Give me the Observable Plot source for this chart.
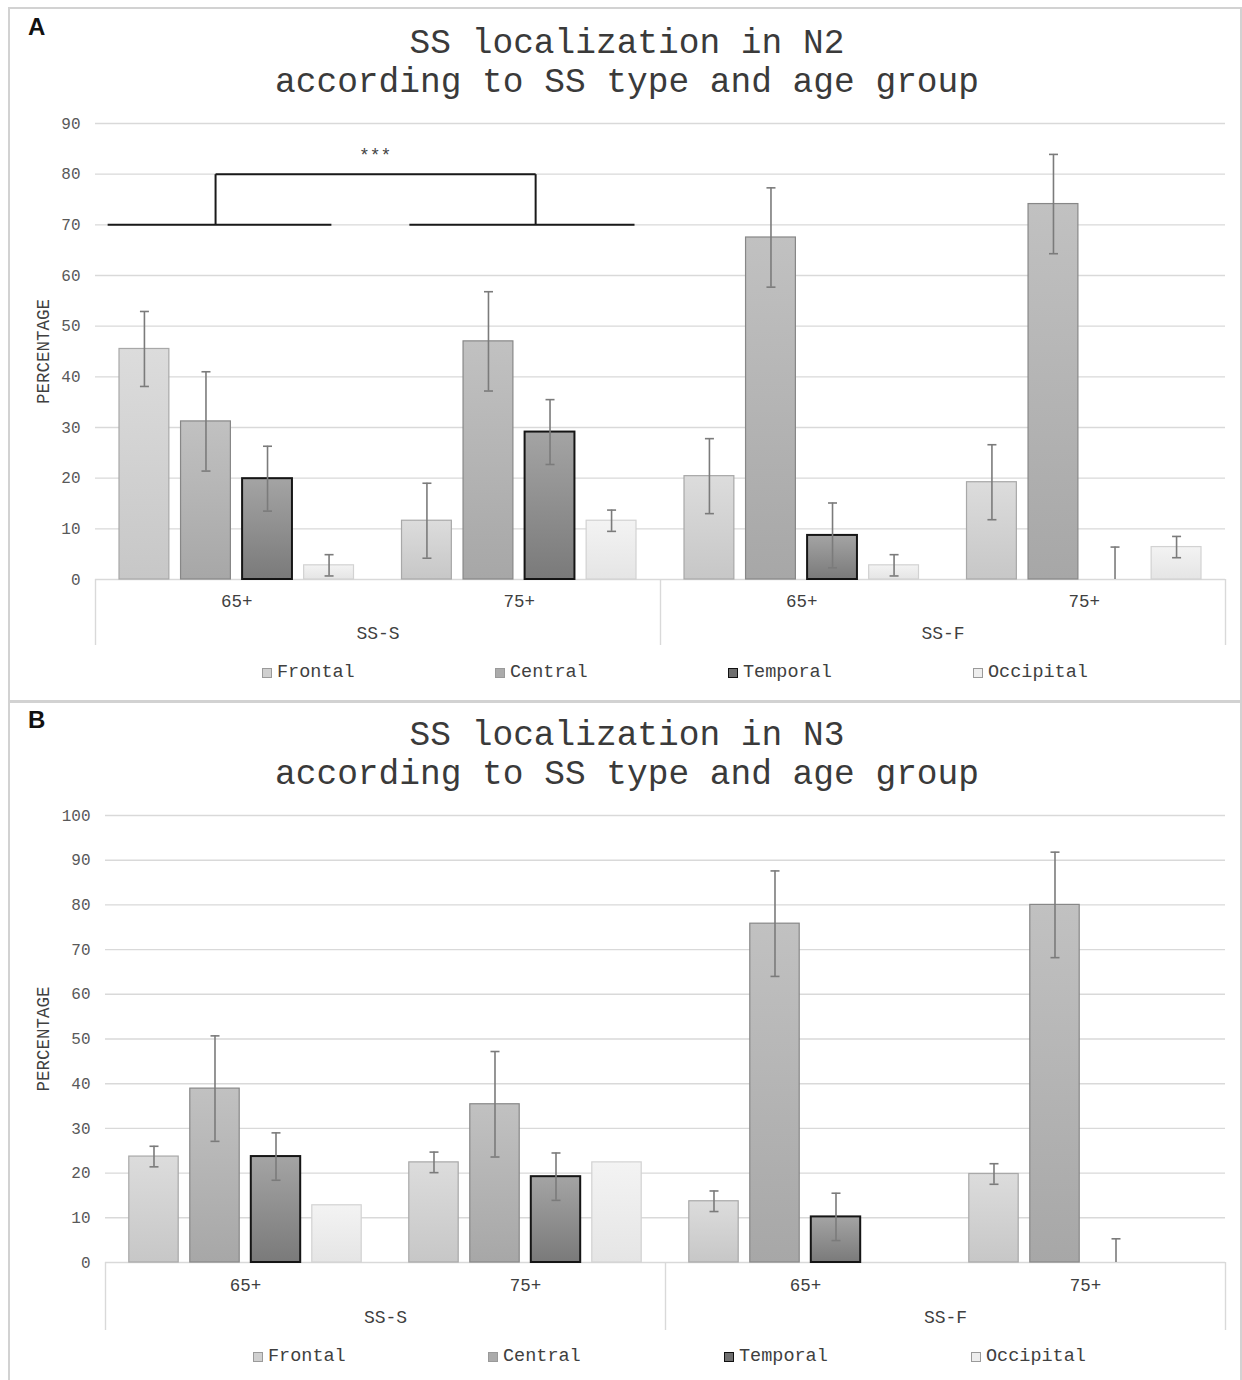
<!DOCTYPE html>
<html>
<head>
<meta charset="utf-8">
<script src="https://cdn.jsdelivr.net/npm/d3@7"></script>
<script src="https://cdn.jsdelivr.net/npm/@observablehq/plot@0.6"></script>
<style>
  body { margin: 0; background: #fff; overflow: hidden; }
  #page { position: relative; width: 1242px; height: 1380px; }
  .plotwrap { position: absolute; left: 0; }
  .frame { position: absolute; box-sizing: border-box; border: 2px solid #d4d4d4; pointer-events: none; }
  .letter { position: absolute; font-family: "Liberation Sans", Arial, sans-serif; font-weight: bold; font-size: 24px; line-height: 24px; color: #111; }
  .title { position: absolute; left: 12px; width: 1230px; text-align: center; font-family: "Liberation Mono", "DejaVu Sans Mono", monospace; font-size: 34.5px; line-height: 39px; color: #3a3a3a; white-space: pre; }
  .legend-item { position: absolute; display: flex; align-items: center; font-family: "Liberation Mono", "DejaVu Sans Mono", monospace; font-size: 18.5px; line-height: 22px; color: #404040; white-space: nowrap; }
  .sw { width: 8px; height: 8px; border: 1px solid; margin-right: 5px; }
</style>
</head>
<body>
<div id="page"></div>
<script>
// ---------------- data ----------------
const regions = ["Frontal", "Central", "Temporal", "Occipital"];
const ssTypes = ["SS-S", "SS-F"];
const ageGroups = ["65+", "75+"];

// Panel A: N2 (order of groups: SS-S 65+, SS-S 75+, SS-F 65+, SS-F 75+)
const n2Frontal   = [45.5, 11.6, 20.4, 19.2];
const n2Central   = [31.2, 47.0, 67.5, 74.1];
const n2Temporal  = [19.9, 29.1, 8.7, 0];
const n2Occipital = [2.8, 11.6, 2.8, 6.4];
const n2Error     = [7.4, 9.8, 6.4, 2.1];   // per region (Frontal, Central, Temporal, Occipital)
const n2Ticks     = [0, 10, 20, 30, 40, 50, 60, 70, 80, 90];
const n2Bracket   = {low: 70, high: 80, label: "***"};

// Panel B: N3
const n3Frontal   = [23.7, 22.4, 13.7, 19.8];
const n3Central   = [38.9, 35.4, 75.8, 80.0];
const n3Temporal  = [23.7, 19.2, 10.2, 0];
const n3Occipital = [12.8, 22.4, 0, 0];
const n3Error     = [2.3, 11.8, 5.3, null];
const n3Ticks     = [0, 10, 20, 30, 40, 50, 60, 70, 80, 90, 100];

// ---------------- styles ----------------
const FONT = '"Liberation Mono", "DejaVu Sans Mono", monospace';
const regionStyle = {
  Frontal:   {top: "#dcdcdc", bottom: "#c7c7c7", stroke: "#a8a8a8", sw: 1.2, swatch: "#d0d0d0"},
  Central:   {top: "#c1c1c1", bottom: "#a7a7a7", stroke: "#878787", sw: 1.2, swatch: "#ababab"},
  Temporal:  {top: "#a4a4a4", bottom: "#7a7a7a", stroke: "#151515", sw: 2,   swatch: "#6f6f6f"},
  Occipital: {top: "#f3f3f3", bottom: "#e5e5e5", stroke: "#d2d2d2", sw: 1.2, swatch: "#eeeeee"}
};

const groups = ssTypes.flatMap(ss => ageGroups.map(age => ({ss, age})));
const band = d3.scaleBand().domain(regions).range([0, 1]).paddingInner(0.19).paddingOuter(0.39);

const capSymbol = {
  draw(context) { context.moveTo(-4.5, 0); context.lineTo(4.5, 0); }
};

function buildPanel(cfg) {
  const series = cfg.series;
  const rows = groups.flatMap((grp, g) => regions.map((region, r) => {
    const x1 = g + band(region);
    return {g, ss: grp.ss, age: grp.age, region, value: series[r][g], err: cfg.errors[r],
            x1, x2: x1 + band.bandwidth(), xc: x1 + band.bandwidth() / 2};
  }));
  const errRows = rows.filter(d => d.err != null).map(d => ({...d, lo: Math.max(0, d.value - d.err), hi: d.value + d.err}));
  const capRows = errRows.flatMap(d => d.value - d.err >= 0 ? [{xc: d.xc, y: d.hi}, {xc: d.xc, y: d.lo}] : [{xc: d.xc, y: d.hi}]);

  const marks = [
    Plot.ruleY(cfg.ticks, {stroke: "#d9d9d9", strokeWidth: 1.4}),
    ...regions.map(region => Plot.rect(rows.filter(d => d.region === region), {
      x1: "x1", x2: "x2", y1: 0, y2: "value",
      fill: `url(#${cfg.id}-${region})`,
      stroke: regionStyle[region].stroke, strokeWidth: regionStyle[region].sw
    })),
    Plot.ruleX(errRows, {x: "xc", y1: "lo", y2: "hi", stroke: "#7b7b7b", strokeWidth: 1.6}),
    Plot.dot(capRows, {x: "xc", y: "y", symbol: capSymbol, r: 4, fill: "none", stroke: "#7b7b7b", strokeWidth: 1.6}),
    // multi-level category axis
    Plot.ruleX([0, ssTypes.length, groups.length], {x: d => d, y1: 0, y2: 0, insetBottom: -cfg.axisDepth, stroke: "#d9d9d9", strokeWidth: 1.4}),
    Plot.text(groups, {x: (d, i) => i + 0.5, text: "age", frameAnchor: "bottom", dy: cfg.ageDy, fontSize: 17.5, fill: "#404040", fontFamily: FONT}),
    Plot.text(ssTypes, {x: (d, i) => i * ageGroups.length + ageGroups.length / 2, text: d => d, frameAnchor: "bottom", dy: cfg.ssDy, fontSize: 18, fill: "#404040", fontFamily: FONT}),
    Plot.text(["PERCENTAGE"], {text: d => d, frameAnchor: "left", textAnchor: "middle", dx: cfg.labelDx, rotate: -90, fontSize: 17.5, fill: "#404040", fontFamily: FONT})
  ];

  if (cfg.bracket) {
    const b = cfg.bracket;
    const segs = [
      {x1: 0.043, y1: b.low, x2: 0.835, y2: b.low},
      {x1: 1.111, y1: b.low, x2: 1.908, y2: b.low},
      {x1: 0.425, y1: b.low, x2: 0.425, y2: b.high},
      {x1: 1.558, y1: b.low, x2: 1.558, y2: b.high},
      {x1: 0.425, y1: b.high, x2: 1.558, y2: b.high}
    ];
    marks.push(Plot.link(segs, {x1: "x1", y1: "y1", x2: "x2", y2: "y2", stroke: "#1a1a1a", strokeWidth: 2}));
    marks.push(Plot.text([b.label], {x: 0.99, y: b.high + 3.8, text: d => d, fontSize: 18, fill: "#444", fontFamily: FONT}));
  }

  const svg = Plot.plot({
    width: 1242,
    height: cfg.height,
    marginLeft: cfg.mL, marginRight: 17, marginTop: cfg.mT, marginBottom: cfg.mB,
    style: {background: "none", fontFamily: FONT, fontSize: "16px", color: "#595959", overflow: "visible"},
    x: {domain: [0, groups.length], axis: null},
    y: {domain: [0, cfg.ticks[cfg.ticks.length - 1]], ticks: cfg.ticks, tickSize: 0, tickPadding: 15, label: null, tickFormat: d => d},
    marks
  });

  const defs = d3.select(svg).insert("defs", ":first-child");
  regions.forEach(region => {
    const s = regionStyle[region];
    const lg = defs.append("linearGradient").attr("id", `${cfg.id}-${region}`).attr("x1", 0).attr("y1", 0).attr("x2", 0).attr("y2", 1);
    lg.append("stop").attr("offset", "0%").attr("stop-color", s.top);
    lg.append("stop").attr("offset", "100%").attr("stop-color", s.bottom);
  });

  const wrap = document.createElement("div");
  wrap.className = "plotwrap";
  wrap.style.top = cfg.top + "px";
  wrap.appendChild(svg);
  return wrap;
}

const page = document.getElementById("page");

function addHTML(tag, cls, styles, text) {
  const el = document.createElement(tag);
  el.className = cls;
  Object.assign(el.style, styles);
  if (text != null) el.textContent = text;
  page.appendChild(el);
  return el;
}

function addLegend(top, lefts) {
  regions.forEach((region, i) => {
    const item = addHTML("div", "legend-item", {top: top + "px", left: lefts[i] + "px"});
    const sw = document.createElement("span");
    sw.className = "sw";
    sw.style.background = regionStyle[region].swatch;
    sw.style.borderColor = regionStyle[region].stroke === "#151515" ? "#111" : "#9a9a9a";
    item.appendChild(sw);
    item.appendChild(document.createTextNode(region));
  });
}

// Panel A
page.appendChild(buildPanel({
  id: "gA", series: [n2Frontal, n2Central, n2Temporal, n2Occipital], errors: n2Error, ticks: n2Ticks,
  top: 100, height: 560, mL: 95, mT: 23, mB: 81, axisDepth: 66, ageDy: 27, ssDy: 59, labelDx: -52,
  bracket: n2Bracket
}));
addHTML("div", "title", {top: "24px"}, "SS localization in N2\naccording to SS type and age group");
addHTML("div", "letter", {left: "28px", top: "15px"}, "A");
addLegend(662, [262, 495, 728, 973]);

// Panel B
page.appendChild(buildPanel({
  id: "gB", series: [n3Frontal, n3Central, n3Temporal, n3Occipital], errors: n3Error, ticks: n3Ticks,
  top: 790, height: 555, mL: 105, mT: 25, mB: 83, axisDepth: 68, ageDy: 28, ssDy: 60, labelDx: -62,
  bracket: null
}));
addHTML("div", "title", {top: "716px"}, "SS localization in N3\naccording to SS type and age group");
addHTML("div", "letter", {left: "28px", top: "708px"}, "B");
addLegend(1346, [253, 488, 724, 971]);

// panel frames
addHTML("div", "frame", {left: "8px", top: "7px", width: "1234px", height: "696px", borderBottomWidth: "3px", borderColor: "#d2d2d2"});
addHTML("div", "frame", {left: "8px", top: "702px", width: "1234px", height: "690px", borderTopWidth: "1px", borderColor: "#d2d2d2"});
</script>
</body>
</html>
